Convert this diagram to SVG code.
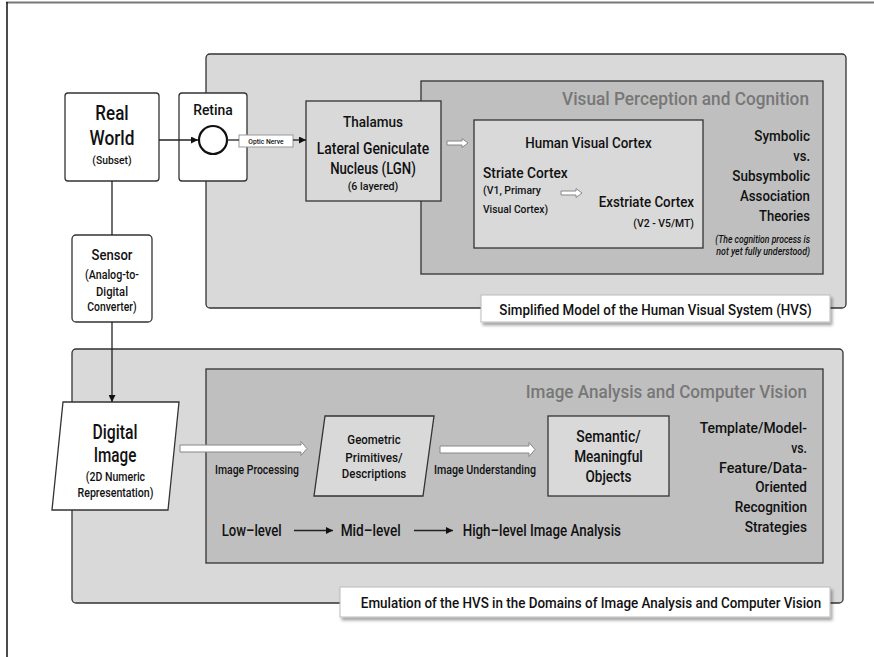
<svg xmlns="http://www.w3.org/2000/svg" width="874" height="657" viewBox="0 0 874 657">
  <defs>
    <style>
      text { font-family: "Roboto", "Liberation Sans", sans-serif; font-weight: 500; fill: #111; }
      .mid { text-anchor: middle; }
      .end { text-anchor: end; }
      .panel { fill: #d9d9d9; stroke: #333; stroke-width: 1.3; }
      .inner { fill: #bfbfbf; stroke: #333; stroke-width: 1.3; }
      .node { fill: #ffffff; stroke: #333; stroke-width: 1.3; }
      .lnode { fill: #d9d9d9; stroke: #333; stroke-width: 1.3; }
      .caption { fill: #ffffff; stroke: #bbb; stroke-width: 1; filter: url(#shadow); }
      .title { fill: #777; font-size: 19px; }
      .wire { stroke: #222; stroke-width: 1.3; fill: none; }
      .hollow { fill: #ffffff; stroke: #888; stroke-width: 1; }
    </style>
    <marker id="tip" viewBox="0 0 10 10" refX="10" refY="5" markerWidth="7" markerHeight="7" markerUnits="userSpaceOnUse" orient="auto">
      <path d="M0,0 L10,5 L0,10 z" fill="#111"/>
    </marker>
    <filter id="shadow" x="-5%" y="-20%" width="115%" height="160%">
      <feDropShadow dx="2" dy="3" stdDeviation="1.5" flood-color="#000" flood-opacity="0.35"/>
    </filter>
  </defs>

  <!-- page frame -->
  <line x1="6" y1="2.5" x2="874" y2="2.5" stroke="#777" stroke-width="2"/>
  <line x1="7" y1="2" x2="7" y2="657" stroke="#111" stroke-width="1.5"/>

  <!-- Human visual system panel -->
  <g id="hvs-panel">
    <rect class="panel" x="206" y="54" width="640" height="254" rx="4"/>
    <rect class="inner" x="421" y="81" width="402" height="193"/>
    <text class="title end" x="809" y="105" textLength="247" lengthAdjust="spacingAndGlyphs">Visual Perception and Cognition</text>
    <g font-size="15.5">
      <text class="end" x="810" y="141" textLength="55.7" lengthAdjust="spacingAndGlyphs">Symbolic</text>
      <text class="end" x="810" y="161" textLength="16.7" lengthAdjust="spacingAndGlyphs">vs.</text>
      <text class="end" x="810" y="181" textLength="77.7" lengthAdjust="spacingAndGlyphs">Subsymbolic</text>
      <text class="end" x="810" y="201" textLength="70" lengthAdjust="spacingAndGlyphs">Association</text>
      <text class="end" x="810" y="221" textLength="51" lengthAdjust="spacingAndGlyphs">Theories</text>
    </g>
    <g font-size="10" font-style="italic">
      <text class="end" x="810" y="242.5" textLength="94.7" lengthAdjust="spacingAndGlyphs">(The cognition process is</text>
      <text class="end" x="810" y="255" textLength="93.7" lengthAdjust="spacingAndGlyphs">not yet fully understood)</text>
    </g>
  </g>

  <!-- Image analysis panel -->
  <g id="cv-panel">
    <rect class="panel" x="72" y="349" width="771" height="254" rx="4"/>
    <rect class="inner" x="206" y="369" width="617" height="194"/>
    <text class="title end" x="807" y="397.5" textLength="281.3" lengthAdjust="spacingAndGlyphs">Image Analysis and Computer Vision</text>
    <g font-size="15.5">
      <text class="end" x="807" y="433" textLength="107.3" lengthAdjust="spacingAndGlyphs">Template/Model-</text>
      <text class="end" x="807" y="452.5" textLength="15.7" lengthAdjust="spacingAndGlyphs">vs.</text>
      <text class="end" x="807" y="472.5" textLength="88" lengthAdjust="spacingAndGlyphs">Feature/Data-</text>
      <text class="end" x="807" y="492" textLength="51.7" lengthAdjust="spacingAndGlyphs">Oriented</text>
      <text class="end" x="807" y="512" textLength="72.3" lengthAdjust="spacingAndGlyphs">Recognition</text>
      <text class="end" x="807" y="532" textLength="62.3" lengthAdjust="spacingAndGlyphs">Strategies</text>
    </g>
  </g>

  <g id="real-world">
    <rect class="node" x="65" y="93" width="94" height="88" rx="3"/>
    <text class="mid" x="112" y="120" font-size="21" textLength="33.3" lengthAdjust="spacingAndGlyphs">Real</text>
    <text class="mid" x="112" y="145" font-size="21" textLength="45" lengthAdjust="spacingAndGlyphs">World</text>
    <text class="mid" x="112" y="164" font-size="11.5" textLength="39.3" lengthAdjust="spacingAndGlyphs">(Subset)</text>
  </g>

  <g id="retina">
    <rect class="node" x="179" y="93" width="68" height="88" rx="3"/>
    <text class="mid" x="213" y="115" font-size="14.5" textLength="39.7" lengthAdjust="spacingAndGlyphs">Retina</text>
    <circle cx="213" cy="140" r="14" fill="#fff" stroke="#111" stroke-width="2.2"/>
  </g>

  <g id="optic-nerve">
    <rect x="239" y="135" width="54" height="12" fill="#fff" stroke="#999" stroke-width="1"/>
    <text class="mid" x="266" y="144" font-size="8" textLength="35.3" lengthAdjust="spacingAndGlyphs">Optic Nerve</text>
  </g>

  <g id="thalamus">
    <rect class="lnode" x="306" y="101" width="135" height="100"/>
    <text class="mid" x="373" y="127" font-size="14.5" textLength="60" lengthAdjust="spacingAndGlyphs">Thalamus</text>
    <text class="mid" x="373" y="154" font-size="16" textLength="112.3" lengthAdjust="spacingAndGlyphs">Lateral Geniculate</text>
    <text class="mid" x="373" y="174" font-size="16" textLength="85.7" lengthAdjust="spacingAndGlyphs">Nucleus (LGN)</text>
    <text class="mid" x="373" y="190" font-size="11.5" textLength="50.7" lengthAdjust="spacingAndGlyphs">(6 layered)</text>
  </g>

  <g id="visual-cortex">
    <rect class="lnode" x="474" y="120" width="229" height="128"/>
    <text class="mid" x="588.5" y="148" font-size="15" textLength="126.3" lengthAdjust="spacingAndGlyphs">Human Visual Cortex</text>
    <text x="483" y="178" font-size="15" textLength="84.7" lengthAdjust="spacingAndGlyphs">Striate Cortex</text>
    <text x="483" y="194" font-size="11.5" textLength="58" lengthAdjust="spacingAndGlyphs">(V1, Primary</text>
    <text x="483" y="213" font-size="11.5" textLength="65" lengthAdjust="spacingAndGlyphs">Visual Cortex)</text>
    <text class="end" x="694" y="206.5" font-size="15" textLength="95.3" lengthAdjust="spacingAndGlyphs">Exstriate Cortex</text>
    <text class="end" x="694" y="226.5" font-size="11.5" textLength="60.7" lengthAdjust="spacingAndGlyphs">(V2 - V5/MT)</text>
  </g>

  <g id="hvs-caption">
    <rect class="caption" x="481" y="295" width="349" height="27"/>
    <text class="mid" x="655.5" y="314.5" font-size="15" textLength="312.3" lengthAdjust="spacingAndGlyphs">Simplified Model of the Human Visual System (HVS)</text>
  </g>

  <g id="sensor">
    <rect class="node" x="72" y="235" width="80" height="87" rx="4"/>
    <text class="mid" x="112" y="260" font-size="15" textLength="41" lengthAdjust="spacingAndGlyphs">Sensor</text>
    <text class="mid" x="112" y="279" font-size="12" textLength="54" lengthAdjust="spacingAndGlyphs">(Analog-to-</text>
    <text class="mid" x="112" y="296" font-size="12" textLength="32" lengthAdjust="spacingAndGlyphs">Digital</text>
    <text class="mid" x="112" y="311" font-size="12" textLength="49.3" lengthAdjust="spacingAndGlyphs">Converter)</text>
  </g>

  <g id="digital-image">
    <polygon class="node" points="63,402 179,402 168,510 52,510"/>
    <text class="mid" x="115" y="438.5" font-size="20" textLength="45" lengthAdjust="spacingAndGlyphs">Digital</text>
    <text class="mid" x="115" y="462" font-size="20" textLength="42.7" lengthAdjust="spacingAndGlyphs">Image</text>
    <text class="mid" x="115.5" y="481" font-size="12" textLength="59.3" lengthAdjust="spacingAndGlyphs">(2D Numeric</text>
    <text class="mid" x="115.5" y="496.5" font-size="12" textLength="76" lengthAdjust="spacingAndGlyphs">Representation)</text>
  </g>

  <g id="geometric-primitives">
    <polygon class="lnode" points="325,416 434,416 423,496 314,496"/>
    <text class="mid" x="374" y="444" font-size="13" textLength="53.3" lengthAdjust="spacingAndGlyphs">Geometric</text>
    <text class="mid" x="374" y="461.5" font-size="13" textLength="57.3" lengthAdjust="spacingAndGlyphs">Primitives/</text>
    <text class="mid" x="374" y="478" font-size="13" textLength="64.3" lengthAdjust="spacingAndGlyphs">Descriptions</text>
  </g>

  <g id="semantic-objects">
    <rect class="lnode" x="548" y="416" width="121" height="80"/>
    <text class="mid" x="608.5" y="442" font-size="16" textLength="64.3" lengthAdjust="spacingAndGlyphs">Semantic/</text>
    <text class="mid" x="608.5" y="462" font-size="16" textLength="68.7" lengthAdjust="spacingAndGlyphs">Meaningful</text>
    <text class="mid" x="608.5" y="482" font-size="16" textLength="46" lengthAdjust="spacingAndGlyphs">Objects</text>
  </g>

  <g id="cv-caption">
    <rect class="caption" x="340" y="587" width="490" height="30"/>
    <text class="mid" x="591" y="608" font-size="15" textLength="460.3" lengthAdjust="spacingAndGlyphs">Emulation of the HVS in the Domains of Image Analysis and Computer Vision</text>
  </g>

  <!-- process labels and analysis levels -->
  <g id="labels">
    <text class="mid" x="257" y="474" font-size="12" textLength="84" lengthAdjust="spacingAndGlyphs">Image Processing</text>
    <text class="mid" x="485" y="474" font-size="12" textLength="102" lengthAdjust="spacingAndGlyphs">Image Understanding</text>
    <text x="221.7" y="536" font-size="16" textLength="60" lengthAdjust="spacingAndGlyphs">Low–level</text>
    <text x="340.7" y="536" font-size="16" textLength="60" lengthAdjust="spacingAndGlyphs">Mid–level</text>
    <text x="462.7" y="536" font-size="16" textLength="158.3" lengthAdjust="spacingAndGlyphs">High–level Image Analysis</text>
  </g>

  <g id="connectors">
    <line class="wire" x1="159" y1="140" x2="198" y2="140" marker-end="url(#tip)"/>
    <line class="wire" x1="227" y1="140" x2="239" y2="140" stroke="#555"/>
    <line class="wire" x1="293" y1="140" x2="306" y2="140" marker-end="url(#tip)"/>
    <line class="wire" x1="112" y1="181" x2="112" y2="235"/>
    <line class="wire" x1="112" y1="322" x2="112" y2="402" marker-end="url(#tip)"/>
    <line class="wire" x1="294" y1="530.5" x2="333" y2="530.5" marker-end="url(#tip)"/>
    <line class="wire" x1="414" y1="530.5" x2="453" y2="530.5" marker-end="url(#tip)"/>
    <!-- hollow block arrows -->
    <path class="hollow" d="M447,141 L462,141 L462,138.5 L468,143 L462,147.5 L462,145 L447,145 z"/>
    <path class="hollow" d="M561,191 L576,191 L576,188.5 L582,193 L576,197.5 L576,195 L561,195 z"/>
    <path class="hollow" d="M180,445 L301,445 L301,441.5 L307,448.5 L301,455.5 L301,452 L180,452 z"/>
    <path class="hollow" d="M440,446 L529,446 L529,442.5 L535,449.5 L529,456.5 L529,453 L440,453 z"/>
  </g>
</svg>
